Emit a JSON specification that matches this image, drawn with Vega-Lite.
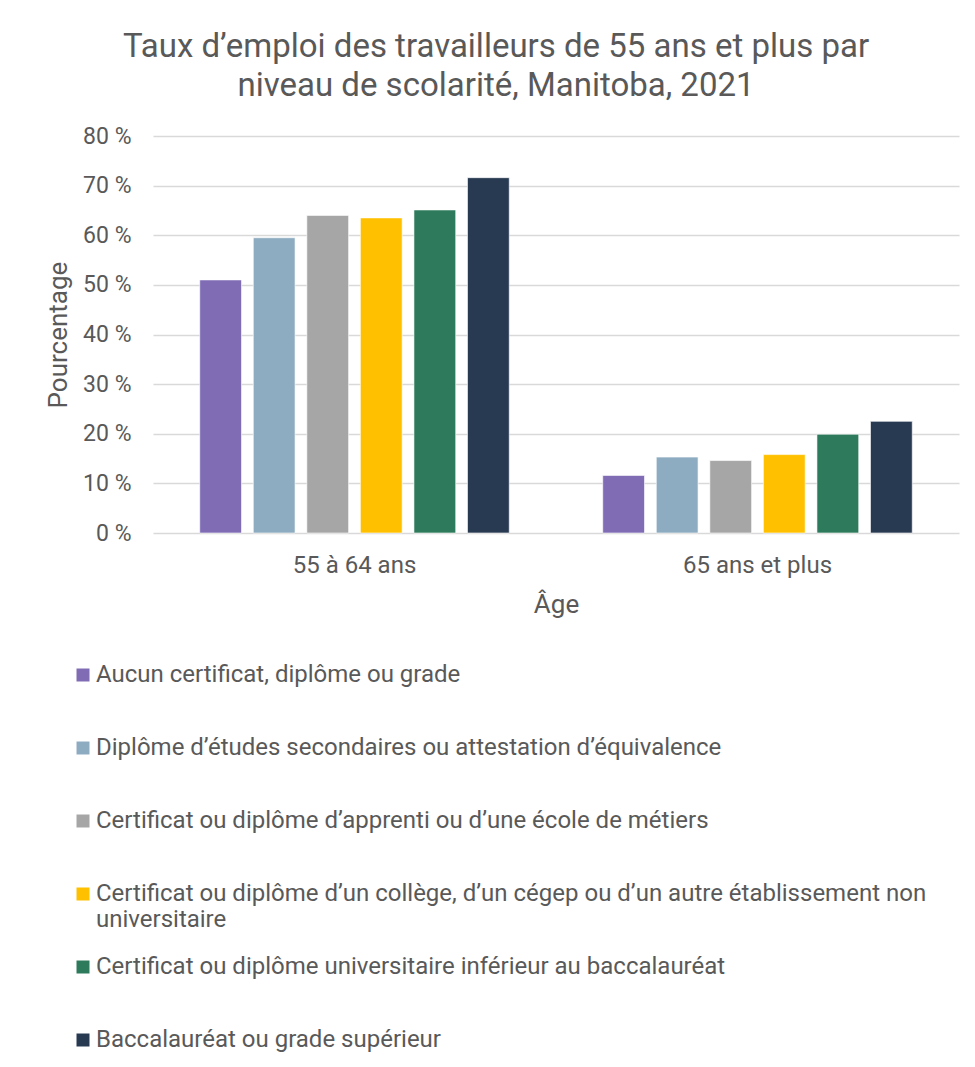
{
  "$schema": "https://vega.github.io/schema/vega-lite/v6.json",
  "width": 806,
  "height": 397,
  "autosize": {"type": "none"},
  "padding": {"left": 153, "top": 136, "right": 16, "bottom": 534},
  "background": "#ffffff",
  "config": {
    "font": "Roboto",
    "view": {"stroke": null}
  },
  "title": {
    "text": ["Taux d’emploi des travailleurs de 55 ans et plus par", "niveau de scolarité, Manitoba, 2021"],
    "fontSize": 33,
    "fontWeight": "normal",
    "color": "#595959",
    "anchor": "middle",
    "dx": -60,
    "lineHeight": 39,
    "offset": 22
  },
  "data": {
    "values": [
      {"age": "55 à 64 ans", "niveau": "Aucun certificat, diplôme ou grade", "taux": 51.0},
      {"age": "55 à 64 ans", "niveau": "Diplôme d’études secondaires ou attestation d’équivalence", "taux": 59.5},
      {"age": "55 à 64 ans", "niveau": "Certificat ou diplôme d’apprenti ou d’une école de métiers", "taux": 64.0},
      {"age": "55 à 64 ans", "niveau": "Certificat ou diplôme d’un collège, d’un cégep ou d’un autre établissement non universitaire", "taux": 63.5},
      {"age": "55 à 64 ans", "niveau": "Certificat ou diplôme universitaire inférieur au baccalauréat", "taux": 65.1},
      {"age": "55 à 64 ans", "niveau": "Baccalauréat ou grade supérieur", "taux": 71.6},
      {"age": "65 ans et plus", "niveau": "Aucun certificat, diplôme ou grade", "taux": 11.6},
      {"age": "65 ans et plus", "niveau": "Diplôme d’études secondaires ou attestation d’équivalence", "taux": 15.3},
      {"age": "65 ans et plus", "niveau": "Certificat ou diplôme d’apprenti ou d’une école de métiers", "taux": 14.6},
      {"age": "65 ans et plus", "niveau": "Certificat ou diplôme d’un collège, d’un cégep ou d’un autre établissement non universitaire", "taux": 15.8},
      {"age": "65 ans et plus", "niveau": "Certificat ou diplôme universitaire inférieur au baccalauréat", "taux": 19.9},
      {"age": "65 ans et plus", "niveau": "Baccalauréat ou grade supérieur", "taux": 22.5}
    ]
  },
  "mark": {"type": "bar", "stroke": "#ffffff", "strokeOpacity": 0.6, "strokeWidth": 1},
  "encoding": {
    "x": {
      "field": "age",
      "type": "nominal",
      "sort": ["55 à 64 ans", "65 ans et plus"],
      "scale": {"paddingInner": 0.232, "paddingOuter": 0.116},
      "axis": {
        "title": "Âge",
        "titleFontSize": 26,
        "titleFontWeight": "normal",
        "titleColor": "#595959",
        "titlePadding": 14,
        "labelAngle": 0,
        "labelFontSize": 24,
        "labelColor": "#595959",
        "labelPadding": 20,
        "domain": false,
        "ticks": false
      }
    },
    "xOffset": {
      "field": "niveau",
      "type": "nominal",
      "sort": [
        "Aucun certificat, diplôme ou grade",
        "Diplôme d’études secondaires ou attestation d’équivalence",
        "Certificat ou diplôme d’apprenti ou d’une école de métiers",
        "Certificat ou diplôme d’un collège, d’un cégep ou d’un autre établissement non universitaire",
        "Certificat ou diplôme universitaire inférieur au baccalauréat",
        "Baccalauréat ou grade supérieur"
      ],
      "scale": {"paddingInner": 0.22, "paddingOuter": 0}
    },
    "y": {
      "field": "taux",
      "type": "quantitative",
      "scale": {"domain": [0, 80], "nice": false},
      "axis": {
        "title": "Pourcentage",
        "titleFontSize": 26,
        "titleFontWeight": "normal",
        "titleColor": "#595959",
        "titlePadding": 11,
        "values": [0, 10, 20, 30, 40, 50, 60, 70, 80],
        "labelExpr": "datum.value + ' %'",
        "labelFontSize": 23,
        "labelColor": "#595959",
        "labelPadding": 22,
        "domain": false,
        "ticks": false,
        "gridColor": "#d9d9d9",
        "gridWidth": 1.5
      }
    },
    "color": {
      "field": "niveau",
      "type": "nominal",
      "sort": [
        "Aucun certificat, diplôme ou grade",
        "Diplôme d’études secondaires ou attestation d’équivalence",
        "Certificat ou diplôme d’apprenti ou d’une école de métiers",
        "Certificat ou diplôme d’un collège, d’un cégep ou d’un autre établissement non universitaire",
        "Certificat ou diplôme universitaire inférieur au baccalauréat",
        "Baccalauréat ou grade supérieur"
      ],
      "scale": {
        "range": ["#7f6cb5", "#8eacc1", "#a6a6a6", "#ffc000", "#2e7a5c", "#283a52"]
      },
      "legend": {
        "title": null,
        "orient": "none",
        "legendX": -82,
        "legendY": 527,
        "direction": "vertical",
        "columns": 1,
        "symbolType": "square",
        "symbolSize": 169,
        "symbolStrokeWidth": 0,
        "symbolOpacity": 1,
        "labelFontSize": 24,
        "labelColor": "#595959",
        "labelLimit": 900,
        "labelOffset": 1,
        "labelBaseline": "middle",
        "labelExpr": "indexof(datum.label, 'collège') >= 0 ? ['Certificat ou diplôme d’un collège, d’un cégep ou d’un autre établissement non', 'universitaire'] : datum.label",
        "labelLineHeight": 29,
        "gridAlign": "all",
        "rowPadding": 23
      }
    }
  }
}
